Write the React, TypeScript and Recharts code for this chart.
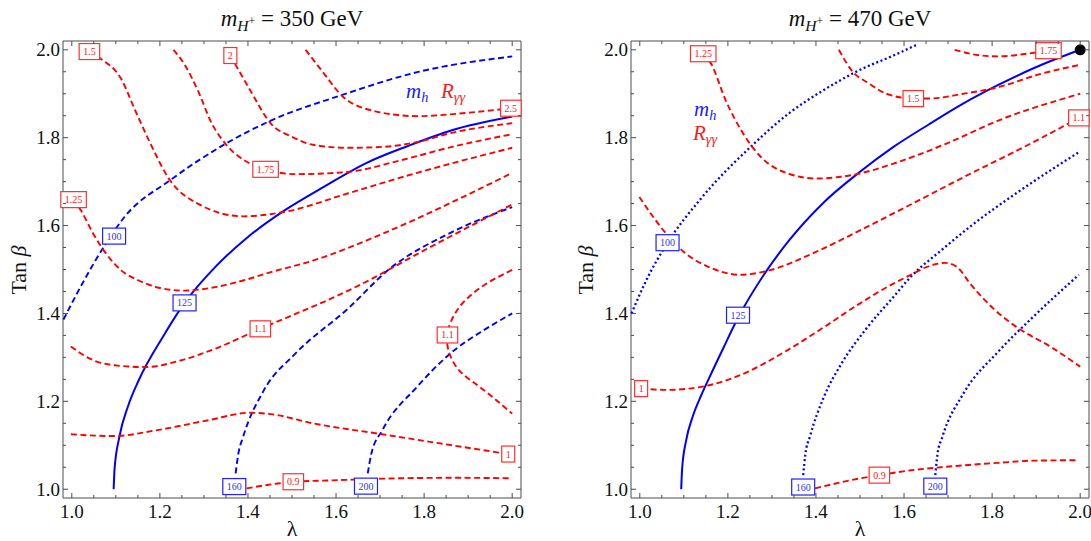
import React from 'react';
import { ComposedChart, Line, Scatter, XAxis, YAxis, ReferenceArea } from 'recharts';

type Pt = { x: number; y: number };
type Tag = { x: number; y: number; text: string };

const FONT = 'Liberation Serif, Times New Roman, Times, DejaVu Serif, serif';
const FRAME = '#4d4d4d';
const RED = '#ff0000';
const BLUE = '#0000ff';

const DOMAIN: [number, number] = [0.98, 2.02];
const TICKS = [1, 1.05, 1.1, 1.15, 1.2, 1.25, 1.3, 1.35, 1.4, 1.45, 1.5, 1.55, 1.6, 1.65, 1.7, 1.75, 1.8, 1.85, 1.9, 1.95, 2];
const PLOT_TOP = 41;
const PLOT_BOTTOM = 498;

// ---- m_H+ = 350 GeV : m_h contours ----
const mh100_350: Pt[] = [
  { x: 0.981, y: 1.386 }, { x: 1.025, y: 1.47 }, { x: 1.073, y: 1.552 }, { x: 1.12, y: 1.62 },
  { x: 1.223, y: 1.703 }, { x: 1.349, y: 1.786 }, { x: 1.452, y: 1.839 }, { x: 1.61, y: 1.896 },
  { x: 1.784, y: 1.949 }, { x: 2.0, y: 1.985 },
];
const mh125_350: Pt[] = [
  { x: 1.095, y: 1.0 }, { x: 1.097, y: 1.045 }, { x: 1.108, y: 1.119 }, { x: 1.128, y: 1.19 },
  { x: 1.152, y: 1.248 }, { x: 1.207, y: 1.347 }, { x: 1.256, y: 1.424 }, { x: 1.326, y: 1.506 },
  { x: 1.4, y: 1.574 }, { x: 1.484, y: 1.635 }, { x: 1.574, y: 1.689 }, { x: 1.666, y: 1.741 },
  { x: 1.763, y: 1.781 }, { x: 1.863, y: 1.817 }, { x: 2.0, y: 1.848 },
];
const mh160_350: Pt[] = [
  { x: 1.372, y: 1.036 }, { x: 1.378, y: 1.08 }, { x: 1.389, y: 1.119 }, { x: 1.436, y: 1.225 },
  { x: 1.507, y: 1.308 }, { x: 1.626, y: 1.41 }, { x: 1.72, y: 1.5 }, { x: 1.863, y: 1.585 },
  { x: 2.0, y: 1.642 },
];
const mh200_350: Pt[] = [
  { x: 1.672, y: 1.036 }, { x: 1.68, y: 1.08 }, { x: 1.705, y: 1.134 }, { x: 1.784, y: 1.233 },
  { x: 1.855, y: 1.305 }, { x: 1.942, y: 1.366 }, { x: 2.0, y: 1.4 },
];

// ---- m_H+ = 350 GeV : R_yy contours ----
const r25_350: Pt[] = [
  { x: 1.531, y: 2.0 }, { x: 1.571, y: 1.948 }, { x: 1.614, y: 1.895 }, { x: 1.666, y: 1.866 },
  { x: 1.784, y: 1.849 }, { x: 1.902, y: 1.857 }, { x: 1.997, y: 1.867 },
];
const r2_350: Pt[] = [
  { x: 1.36, y: 1.987 }, { x: 1.373, y: 1.964 }, { x: 1.405, y: 1.908 }, { x: 1.452, y: 1.832 },
  { x: 1.5, y: 1.802 }, { x: 1.547, y: 1.784 }, { x: 1.626, y: 1.777 }, { x: 1.705, y: 1.779 },
  { x: 1.784, y: 1.79 }, { x: 1.863, y: 1.811 }, { x: 2.0, y: 1.833 },
];
const r175_350: Pt[] = [
  { x: 1.231, y: 2.0 }, { x: 1.255, y: 1.968 }, { x: 1.286, y: 1.908 }, { x: 1.318, y: 1.832 },
  { x: 1.349, y: 1.786 }, { x: 1.405, y: 1.741 }, { x: 1.44, y: 1.728 }, { x: 1.508, y: 1.717 },
  { x: 1.626, y: 1.722 }, { x: 1.745, y: 1.748 }, { x: 1.863, y: 1.779 }, { x: 2.0, y: 1.808 },
];
const r15_350: Pt[] = [
  { x: 1.04, y: 1.996 }, { x: 1.065, y: 1.98 }, { x: 1.112, y: 1.934 }, { x: 1.144, y: 1.862 },
  { x: 1.175, y: 1.794 }, { x: 1.223, y: 1.703 }, { x: 1.286, y: 1.65 }, { x: 1.389, y: 1.621 },
  { x: 1.492, y: 1.633 }, { x: 1.626, y: 1.673 }, { x: 1.784, y: 1.72 }, { x: 2.0, y: 1.777 },
];
const r125_350: Pt[] = [
  { x: 1.004, y: 1.659 }, { x: 1.021, y: 1.634 }, { x: 1.049, y: 1.581 }, { x: 1.073, y: 1.543 },
  { x: 1.112, y: 1.498 }, { x: 1.152, y: 1.475 }, { x: 1.2, y: 1.458 }, { x: 1.255, y: 1.452 },
  { x: 1.326, y: 1.46 }, { x: 1.389, y: 1.475 }, { x: 1.452, y: 1.494 }, { x: 1.547, y: 1.52 },
  { x: 1.705, y: 1.581 }, { x: 1.863, y: 1.653 }, { x: 2.0, y: 1.72 },
];
const r11a_350: Pt[] = [
  { x: 0.998, y: 1.325 }, { x: 1.041, y: 1.297 }, { x: 1.097, y: 1.282 }, { x: 1.168, y: 1.278 },
  { x: 1.247, y: 1.293 }, { x: 1.326, y: 1.32 }, { x: 1.428, y: 1.365 }, { x: 1.508, y: 1.399 },
  { x: 1.587, y: 1.433 }, { x: 1.674, y: 1.475 }, { x: 1.784, y: 1.535 }, { x: 2.0, y: 1.648 },
];
const r11b_350: Pt[] = [
  { x: 2.0, y: 1.499 }, { x: 1.942, y: 1.468 }, { x: 1.887, y: 1.423 }, { x: 1.859, y: 1.377 },
  { x: 1.853, y: 1.351 }, { x: 1.855, y: 1.317 }, { x: 1.879, y: 1.271 }, { x: 1.926, y: 1.233 },
  { x: 2.0, y: 1.172 },
];
const r1_350: Pt[] = [
  { x: 0.998, y: 1.125 }, { x: 1.096, y: 1.121 }, { x: 1.191, y: 1.134 }, { x: 1.31, y: 1.157 },
  { x: 1.405, y: 1.174 }, { x: 1.452, y: 1.171 }, { x: 1.547, y: 1.15 }, { x: 1.705, y: 1.125 },
  { x: 1.863, y: 1.1 }, { x: 1.991, y: 1.08 },
];
const r09_350: Pt[] = [
  { x: 1.397, y: 1.002 }, { x: 1.468, y: 1.013 }, { x: 1.503, y: 1.017 }, { x: 1.587, y: 1.02 },
  { x: 1.705, y: 1.024 }, { x: 1.863, y: 1.026 }, { x: 2.0, y: 1.025 },
];

const redTags350: Tag[] = [
  { x: 1.04, y: 1.996, text: '1.5' }, { x: 1.36, y: 1.987, text: '2' }, { x: 1.997, y: 1.867, text: '2.5' },
  { x: 1.44, y: 1.728, text: '1.75' }, { x: 1.004, y: 1.659, text: '1.25' }, { x: 1.428, y: 1.365, text: '1.1' },
  { x: 1.853, y: 1.351, text: '1.1' }, { x: 1.991, y: 1.08, text: '1' }, { x: 1.503, y: 1.017, text: '0.9' },
];
const blueTags350: Tag[] = [
  { x: 1.096, y: 1.576, text: '100' }, { x: 1.256, y: 1.424, text: '125' },
  { x: 1.369, y: 1.006, text: '160' }, { x: 1.668, y: 1.007, text: '200' },
];

// ---- m_H+ = 470 GeV : m_h contours ----
const mh100_470: Pt[] = [
  { x: 0.981, y: 1.4 }, { x: 1.015, y: 1.476 }, { x: 1.063, y: 1.561 }, { x: 1.136, y: 1.658 },
  { x: 1.259, y: 1.786 }, { x: 1.338, y: 1.855 }, { x: 1.417, y: 1.908 }, { x: 1.497, y: 1.953 },
  { x: 1.576, y: 1.987 }, { x: 1.63, y: 2.012 },
];
const mh125_470: Pt[] = [
  { x: 1.094, y: 1.0 }, { x: 1.096, y: 1.045 }, { x: 1.105, y: 1.11 }, { x: 1.12, y: 1.165 },
  { x: 1.14, y: 1.215 }, { x: 1.156, y: 1.25 }, { x: 1.19, y: 1.322 }, { x: 1.223, y: 1.39 },
  { x: 1.281, y: 1.487 }, { x: 1.338, y: 1.565 }, { x: 1.417, y: 1.652 }, { x: 1.497, y: 1.72 },
  { x: 1.576, y: 1.779 }, { x: 1.656, y: 1.83 }, { x: 1.735, y: 1.878 }, { x: 1.814, y: 1.92 },
  { x: 1.894, y: 1.958 }, { x: 2.0, y: 2.0 },
];
const mh160_470: Pt[] = [
  { x: 1.371, y: 1.032 }, { x: 1.376, y: 1.08 }, { x: 1.386, y: 1.119 }, { x: 1.418, y: 1.21 },
  { x: 1.458, y: 1.286 }, { x: 1.514, y: 1.365 }, { x: 1.578, y: 1.44 }, { x: 1.614, y: 1.482 },
  { x: 1.68, y: 1.54 }, { x: 1.757, y: 1.603 }, { x: 1.854, y: 1.673 }, { x: 1.997, y: 1.767 },
];
const mh200_470: Pt[] = [
  { x: 1.671, y: 1.032 }, { x: 1.676, y: 1.08 }, { x: 1.687, y: 1.119 }, { x: 1.735, y: 1.218 },
  { x: 1.814, y: 1.313 }, { x: 1.894, y: 1.393 }, { x: 1.997, y: 1.488 },
];

// ---- m_H+ = 470 GeV : R_yy contours ----
const r175_470: Pt[] = [
  { x: 1.715, y: 2.0 }, { x: 1.775, y: 1.987 }, { x: 1.814, y: 1.985 }, { x: 1.878, y: 1.991 },
  { x: 1.928, y: 1.998 },
];
const r15_470: Pt[] = [
  { x: 1.452, y: 2.0 }, { x: 1.481, y: 1.953 }, { x: 1.521, y: 1.923 }, { x: 1.56, y: 1.9 },
  { x: 1.621, y: 1.889 }, { x: 1.656, y: 1.889 }, { x: 1.735, y: 1.9 }, { x: 1.814, y: 1.915 },
  { x: 1.91, y: 1.945 }, { x: 2.0, y: 1.966 },
];
const r125_470: Pt[] = [
  { x: 1.144, y: 1.991 }, { x: 1.162, y: 1.968 }, { x: 1.195, y: 1.885 }, { x: 1.235, y: 1.809 },
  { x: 1.275, y: 1.756 }, { x: 1.338, y: 1.718 }, { x: 1.402, y: 1.707 }, { x: 1.457, y: 1.711 },
  { x: 1.497, y: 1.718 }, { x: 1.576, y: 1.741 }, { x: 1.695, y: 1.786 }, { x: 1.814, y: 1.839 },
  { x: 2.0, y: 1.9 },
];
const r11_470: Pt[] = [
  { x: 0.999, y: 1.665 }, { x: 1.057, y: 1.585 }, { x: 1.1, y: 1.54 }, { x: 1.163, y: 1.503 },
  { x: 1.227, y: 1.488 }, { x: 1.29, y: 1.497 }, { x: 1.4, y: 1.54 }, { x: 1.5, y: 1.589 },
  { x: 1.6, y: 1.64 }, { x: 1.735, y: 1.71 }, { x: 1.894, y: 1.79 }, { x: 1.997, y: 1.845 },
];
const r1_470: Pt[] = [
  { x: 1.003, y: 1.229 }, { x: 1.06, y: 1.226 }, { x: 1.14, y: 1.233 }, { x: 1.219, y: 1.256 },
  { x: 1.338, y: 1.318 }, { x: 1.42, y: 1.37 }, { x: 1.5, y: 1.423 }, { x: 1.576, y: 1.468 },
  { x: 1.614, y: 1.487 }, { x: 1.652, y: 1.506 }, { x: 1.693, y: 1.515 }, { x: 1.72, y: 1.506 },
  { x: 1.75, y: 1.468 }, { x: 1.803, y: 1.411 }, { x: 1.854, y: 1.37 }, { x: 1.933, y: 1.324 },
  { x: 2.0, y: 1.279 },
];
const r09_470: Pt[] = [
  { x: 1.398, y: 1.002 }, { x: 1.497, y: 1.024 }, { x: 1.544, y: 1.032 }, { x: 1.616, y: 1.043 },
  { x: 1.695, y: 1.051 }, { x: 1.814, y: 1.06 }, { x: 1.894, y: 1.065 }, { x: 1.997, y: 1.066 },
];

const redTags470: Tag[] = [
  { x: 1.144, y: 1.991, text: '1.25' }, { x: 1.928, y: 1.998, text: '1.75' }, { x: 1.621, y: 1.889, text: '1.5' },
  { x: 1.997, y: 1.845, text: '1.1' }, { x: 1.003, y: 1.229, text: '1' }, { x: 1.544, y: 1.032, text: '0.9' },
];
const blueTags470: Tag[] = [
  { x: 1.063, y: 1.561, text: '100' }, { x: 1.223, y: 1.396, text: '125' },
  { x: 1.371, y: 1.005, text: '160' }, { x: 1.671, y: 1.007, text: '200' },
];
const bestPoint470: Pt[] = [{ x: 2.0, y: 2.0 }];

const STYLE: Record<string, any> = {
  red: { stroke: RED, strokeDasharray: '6 3.5', strokeWidth: 1.9 },
  blueDash: { stroke: BLUE, strokeDasharray: '6 3.5', strokeWidth: 1.9 },
  blueSolid: { stroke: BLUE, strokeWidth: 2 },
  blueDot: { stroke: BLUE, strokeDasharray: '2 2.6', strokeWidth: 2.3 },
};

// the C-shaped 1.1 contour folds back in x, so it gets the parametric spline
const curves350 = [
  { pts: mh100_350, kind: 'blueDash' }, { pts: mh125_350, kind: 'blueSolid' },
  { pts: mh160_350, kind: 'blueDash' }, { pts: mh200_350, kind: 'blueDash' },
  { pts: r25_350, kind: 'red' }, { pts: r2_350, kind: 'red' }, { pts: r175_350, kind: 'red' },
  { pts: r15_350, kind: 'red' }, { pts: r125_350, kind: 'red' }, { pts: r11a_350, kind: 'red' },
  { pts: r11b_350, kind: 'red', curve: 'natural' }, { pts: r1_350, kind: 'red' }, { pts: r09_350, kind: 'red' },
];
const curves470 = [
  { pts: mh100_470, kind: 'blueDot' }, { pts: mh125_470, kind: 'blueSolid' },
  { pts: mh160_470, kind: 'blueDot' }, { pts: mh200_470, kind: 'blueDot' },
  { pts: r175_470, kind: 'red' }, { pts: r15_470, kind: 'red' }, { pts: r125_470, kind: 'red' },
  { pts: r11_470, kind: 'red' }, { pts: r1_470, kind: 'red' }, { pts: r09_470, kind: 'red' },
];

const isMajor = (v: number) => Math.abs(v * 5 - Math.round(v * 5)) < 1e-6;

function xTick(p: any) {
  const v = p.payload.value;
  const len = isMajor(v) ? 5 : 3;
  return (
    <g>
      <line x1={p.x} x2={p.x} y1={PLOT_BOTTOM} y2={PLOT_BOTTOM - len} stroke={FRAME} />
      <line x1={p.x} x2={p.x} y1={PLOT_TOP} y2={PLOT_TOP + len} stroke={FRAME} />
      {isMajor(v) && (
        <text x={p.x} y={518} textAnchor="middle" fontSize={19} fontFamily={FONT} fill="#111">
          {v.toFixed(1)}
        </text>
      )}
    </g>
  );
}

const yTick = (left: number, right: number) => (p: any) => {
  const v = p.payload.value;
  const len = isMajor(v) ? 5 : 3;
  return (
    <g>
      <line x1={left} x2={left + len} y1={p.y} y2={p.y} stroke={FRAME} />
      <line x1={right} x2={right - len} y1={p.y} y2={p.y} stroke={FRAME} />
      {isMajor(v) && (
        <text x={left - 3} y={p.y + 6.5} textAnchor="end" fontSize={19} fontFamily={FONT} fill="#111">
          {v.toFixed(1)}
        </text>
      )}
    </g>
  );
};

const charW = (t: string) => t.split('').reduce((s, c) => s + (c === '.' ? 2.5 : 5), 0);

const tagShape = (color: string, textColor: string) => (p: any) => {
  const t = p.payload.text;
  const w = charW(t) + 8;
  return (
    <g>
      <rect x={p.cx - w / 2} y={p.cy - 8} width={w} height={16} fill="#fff" stroke={color} strokeWidth={1.2} />
      <text x={p.cx} y={p.cy + 3.5} textAnchor="middle" fontSize={10} fontFamily={FONT} fill={textColor}>
        {t}
      </text>
    </g>
  );
};

const dotShape = (p: any) => <circle cx={p.cx} cy={p.cy} r={5.5} fill="#000" />;

function Panel({ width, axisW, rightM, curves, redTags, blueTags, best }: any) {
  return (
    <ComposedChart width={width} height={541} margin={{ top: PLOT_TOP, right: rightM, bottom: 0, left: 0 }}>
      <XAxis dataKey="x" type="number" domain={DOMAIN} ticks={TICKS} interval={0} height={541 - PLOT_BOTTOM}
        axisLine={false} tickLine={false} tick={xTick} />
      <YAxis dataKey="y" type="number" domain={DOMAIN} ticks={TICKS} interval={0} width={axisW}
        axisLine={false} tickLine={false} tick={yTick(axisW, width - rightM)} />
      <ReferenceArea x1={0.98} x2={2.02} y1={0.98} y2={2.02} fill="none" stroke={FRAME} strokeWidth={1} />
      {curves.map((c: any, i: number) => (
        <Line key={i} data={c.pts} dataKey="y" type={c.curve || 'monotone'} dot={false} activeDot={false}
          isAnimationActive={false} {...STYLE[c.kind]} />
      ))}
      <Scatter data={redTags} dataKey="y" isAnimationActive={false} shape={tagShape('#ff3030', '#ff2020')} />
      <Scatter data={blueTags} dataKey="y" isAnimationActive={false} shape={tagShape('#2020ff', '#3030ff')} />
      {best && <Scatter data={best} dataKey="y" isAnimationActive={false} shape={dotShape} />}
    </ComposedChart>
  );
}

const sub = (t: React.ReactNode) => (
  <span style={{ fontSize: '0.68em', verticalAlign: '-0.3em' }}>{t}</span>
);

function Title({ left, value }: { left: number; value: string }) {
  return (
    <div style={{ position: 'absolute', left, width: 458, top: 6, textAlign: 'center', fontSize: 23, lineHeight: '26px', whiteSpace: 'nowrap' }}>
      <i>m</i>{sub(<><i>H</i><span style={{ fontSize: '0.75em', verticalAlign: '0.55em' }}>+</span></>)} = {value} GeV
    </div>
  );
}

function YLabel({ cx }: { cx: number }) {
  return (
    <div style={{ position: 'absolute', left: cx, top: 270, transform: 'translate(-50%, -50%) rotate(-90deg)', fontSize: 22, whiteSpace: 'nowrap', lineHeight: '24px' }}>
      Tan <i>β</i>
    </div>
  );
}

function XLabel({ cx }: { cx: number }) {
  return (
    <div style={{ position: 'absolute', left: cx, top: 517, transform: 'translateX(-50%)', fontSize: 22, lineHeight: '24px' }}>
      λ
    </div>
  );
}

function Legend({ left, top, color, children }: any) {
  return (
    <div style={{ position: 'absolute', left, top, fontSize: 21, lineHeight: '22px', color, whiteSpace: 'nowrap' }}>
      {children}
    </div>
  );
}

export default function App() {
  return (
    <div style={{ position: 'absolute', left: 0, top: 0, width: 1091, height: 541, background: '#fff', fontFamily: FONT, color: '#111', overflow: 'hidden' }}>
      <div style={{ position: 'absolute', left: 0, top: 0 }}>
        <Panel width={545} axisW={63} rightM={24} curves={curves350} redTags={redTags350} blueTags={blueTags350} />
      </div>
      <div style={{ position: 'absolute', left: 545, top: 0 }}>
        <Panel width={546} axisW={86} rightM={2} curves={curves470} redTags={redTags470} blueTags={blueTags470} best={bestPoint470} />
      </div>
      <Title left={63} value="350" />
      <Title left={631} value="470" />
      <YLabel cx={19} />
      <YLabel cx={586} />
      <XLabel cx={292} />
      <XLabel cx={860} />
      <Legend left={406} top={80} color="#1a1aff"><i>m</i>{sub(<i>h</i>)}</Legend>
      <Legend left={441} top={80} color="#ff1a1a"><i>R</i>{sub(<i>γγ</i>)}</Legend>
      <Legend left={694} top={98} color="#1a1aff"><i>m</i>{sub(<i>h</i>)}</Legend>
      <Legend left={693} top={122} color="#ff1a1a"><i>R</i>{sub(<i>γγ</i>)}</Legend>
    </div>
  );
}
